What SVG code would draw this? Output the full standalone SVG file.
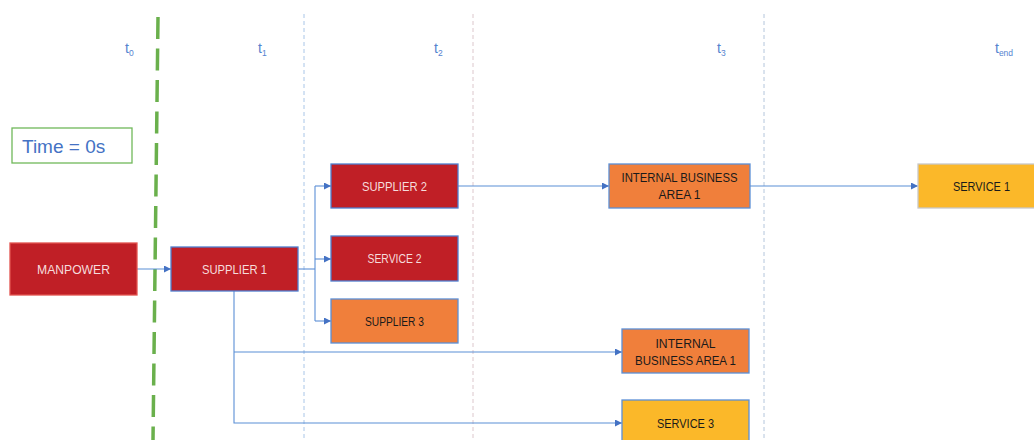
<svg xmlns="http://www.w3.org/2000/svg" width="1034" height="440" viewBox="0 0 1034 440">
  <style>
    .lbl { font-family: "Liberation Sans", Arial, sans-serif; font-size: 13px; text-anchor: middle; }
    .w { fill: #f6dcdc; }
    .k { fill: #1a1a1a; }
    .red { fill: #c01f26; stroke: #4f7fcf; stroke-width: 1.3; }
    .redm { fill: #c01f26; stroke: #e2534f; stroke-width: 1.3; }
    .org { fill: #f07f3b; stroke: #5b8fd6; stroke-width: 1.3; }
    .yel { fill: #fbb829; stroke: #5b8fd6; stroke-width: 1.3; }
    .yelg { fill: #fbb829; stroke: #c8c8c8; stroke-width: 1.3; }
    .conn { fill: none; stroke: #5b8fd6; stroke-width: 1.1; }
    .tl { font-family: "Liberation Sans", Arial, sans-serif; font-size: 14px; fill: #5583cf; }
    .sub { font-size: 8.5px; }
    .vline { stroke-width: 1; stroke-dasharray: 4 3; fill: none; }
  </style>
  <defs>
    <marker id="ah" viewBox="0 0 10 10" refX="10" refY="5" markerWidth="7" markerHeight="7" markerUnits="userSpaceOnUse" orient="auto">
      <path d="M0,0 L10,5 L0,10 z" fill="#4472c4"/>
    </marker>
  </defs>
  <rect x="0" y="0" width="1034" height="440" fill="#ffffff"/>

  <!-- time grid lines -->
  <g id="grid">
    <line class="vline" x1="304" y1="14" x2="304" y2="440" stroke="#a9c6e8"/>
    <line class="vline" x1="473" y1="14" x2="473" y2="440" stroke="#dcc7cc"/>
    <line class="vline" x1="764" y1="14" x2="764" y2="440" stroke="#b4c6dc"/>
    <line x1="158" y1="17" x2="153" y2="440" stroke="#6ab04c" stroke-width="3.5" stroke-dasharray="22 9.5"/>
  </g>

  <!-- time labels -->
  <g id="time-labels">
    <text class="tl" x="125" y="53">t<tspan class="sub" dy="3">0</tspan></text>
    <text class="tl" x="258" y="53">t<tspan class="sub" dy="3">1</tspan></text>
    <text class="tl" x="434" y="53">t<tspan class="sub" dy="3">2</tspan></text>
    <text class="tl" x="717" y="53">t<tspan class="sub" dy="3">3</tspan></text>
    <text class="tl" x="995" y="53">t<tspan class="sub" dy="3">end</tspan></text>
  </g>

  <g id="time-box">
    <rect x="12" y="128" width="120" height="35" fill="#ffffff" stroke="#70b85a" stroke-width="1.3"/>
    <text x="22" y="153" font-family="Liberation Sans, Arial, sans-serif" font-size="19" fill="#4472c4">Time = 0s</text>
  </g>

  <!-- connectors -->
  <g id="connectors">
    <line class="conn" x1="137" y1="269" x2="171" y2="269" marker-end="url(#ah)"/>
    <polyline class="conn" points="298,269 315,269"/>
    <polyline class="conn" points="315,186 315,321"/>
    <line class="conn" x1="315" y1="186" x2="331" y2="186" marker-end="url(#ah)"/>
    <line class="conn" x1="315" y1="259" x2="331" y2="259" marker-end="url(#ah)"/>
    <line class="conn" x1="315" y1="321" x2="331" y2="321" marker-end="url(#ah)"/>
    <line class="conn" x1="458" y1="186" x2="609" y2="186" marker-end="url(#ah)"/>
    <line class="conn" x1="750" y1="186" x2="918" y2="186" marker-end="url(#ah)"/>
    <polyline class="conn" points="234,291 234,423 622,423" marker-end="url(#ah)"/>
    <line class="conn" x1="234" y1="352" x2="622" y2="352" marker-end="url(#ah)"/>
  </g>

  <!-- nodes -->
  <g id="manpower">
    <rect class="redm" x="10" y="243" width="127" height="52"/>
    <text class="lbl w" x="73.5" y="274" textLength="73" lengthAdjust="spacingAndGlyphs">MANPOWER</text>
  </g>
  <g id="supplier1">
    <rect class="red" x="171" y="247" width="127" height="44"/>
    <text class="lbl w" x="234.5" y="273.5" textLength="65" lengthAdjust="spacingAndGlyphs">SUPPLIER 1</text>
  </g>
  <g id="supplier2">
    <rect class="red" x="331" y="164" width="127" height="44"/>
    <text class="lbl w" x="394.5" y="190.5" textLength="65" lengthAdjust="spacingAndGlyphs">SUPPLIER 2</text>
  </g>
  <g id="service2">
    <rect class="red" x="331" y="236" width="127" height="45"/>
    <text class="lbl w" x="394.5" y="263" textLength="54" lengthAdjust="spacingAndGlyphs">SERVICE 2</text>
  </g>
  <g id="supplier3">
    <rect class="org" x="331" y="299" width="127" height="44"/>
    <text class="lbl k" x="394.5" y="325.5" textLength="59" lengthAdjust="spacingAndGlyphs">SUPPLIER 3</text>
  </g>
  <g id="iba1-top">
    <rect class="org" x="609" y="164" width="141" height="44"/>
    <text class="lbl k" x="679.5" y="181.5" textLength="116" lengthAdjust="spacingAndGlyphs">INTERNAL BUSINESS</text>
    <text class="lbl k" x="679.5" y="199" textLength="42" lengthAdjust="spacingAndGlyphs">AREA 1</text>
  </g>
  <g id="service1">
    <rect class="yelg" x="918" y="164" width="120" height="44"/>
    <text class="lbl k" x="981.5" y="190.5" textLength="57" lengthAdjust="spacingAndGlyphs">SERVICE 1</text>
  </g>
  <g id="iba1-bottom">
    <rect class="org" x="622" y="329" width="127" height="44"/>
    <text class="lbl k" x="685.5" y="347.5" textLength="60" lengthAdjust="spacingAndGlyphs">INTERNAL</text>
    <text class="lbl k" x="685.5" y="365" textLength="101" lengthAdjust="spacingAndGlyphs">BUSINESS AREA 1</text>
  </g>
  <g id="service3">
    <rect class="yel" x="622" y="400" width="127" height="45"/>
    <text class="lbl k" x="685.5" y="427.5" textLength="57" lengthAdjust="spacingAndGlyphs">SERVICE 3</text>
  </g>
</svg>
